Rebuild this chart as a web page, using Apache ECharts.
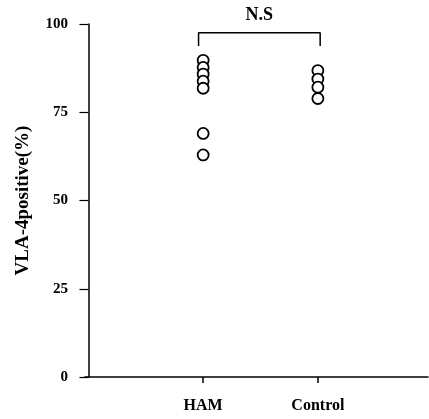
<!DOCTYPE html>
<html>
<head>
<meta charset="utf-8">
<script src="https://cdn.jsdelivr.net/npm/echarts@6/dist/echarts.min.js"></script>
<style>
  html, body { margin: 0; padding: 0; background: #fff; }
  #chart { width: 429px; height: 419px; }
</style>
</head>
<body>
<div id="chart"></div>
<script>
  // groups sit at x = 1 and x = 2 on a value axis
  var categories = ['HAM', 'Control'];
  var hamValues = [89.7, 87.7, 85.8, 83.8, 81.8, 69.0, 62.9];
  var controlValues = [86.8, 84.4, 82.1, 78.9];
  var yTicks = [0, 25, 50, 75, 100];
  // significance bracket: x positions of the legs, leg bottom, top
  var bracketX = [0.96, 2.02];
  var bracketY = [93.8, 97.5];
  var bracketText = 'N.S';

  var serif = '"Liberation Serif","DejaVu Serif",serif';

  function toPoints(x, vals) {
    return vals.map(function (v) { return [x, v]; });
  }

  var dotStyle = { color: '#fff', borderColor: '#000', borderWidth: 1.8, opacity: 1 };

  var chart = echarts.init(document.getElementById('chart'));
  chart.setOption({
    animation: false,
    grid: { left: 85, right: 1, top: 24, bottom: 42, outerBoundsMode: 'none', containLabel: false },
    xAxis: {
      type: 'value',
      min: -0.03,
      max: 2.96,
      splitLine: { show: false },
      axisLine: { lineStyle: { color: '#000', width: 1.5 } },
      axisTick: {
        customValues: [1, 2],
        length: 6,
        lineStyle: { color: '#000', width: 1.5 }
      },
      axisLabel: {
        customValues: [1, 2],
        formatter: function (v) { return categories[Math.round(v) - 1] || ''; },
        color: '#000',
        fontFamily: serif,
        fontWeight: 'bold',
        fontSize: 16,
        margin: 21
      }
    },
    yAxis: {
      type: 'value',
      min: yTicks[0],
      max: yTicks[yTicks.length - 1],
      interval: 25,
      name: 'VLA-4positive(%)',
      nameLocation: 'middle',
      nameGap: 52,
      nameTextStyle: {
        color: '#000',
        fontFamily: serif,
        fontWeight: 'bold',
        fontSize: 19
      },
      splitLine: { show: false },
      axisLine: { show: true, lineStyle: { color: '#000', width: 1.5 } },
      axisTick: { show: true, length: 9, lineStyle: { color: '#000', width: 1.2 } },
      axisLabel: {
        color: '#000',
        fontFamily: serif,
        fontWeight: 'bold',
        fontSize: 15,
        margin: 17
      }
    },
    series: [
      {
        type: 'scatter',
        symbol: 'circle',
        symbolSize: 11,
        itemStyle: dotStyle,
        z: 3,
        data: toPoints(1, hamValues)
      },
      {
        type: 'scatter',
        symbol: 'circle',
        symbolSize: 11,
        itemStyle: dotStyle,
        z: 3,
        data: toPoints(2, controlValues)
      },
      {
        type: 'line',
        symbol: 'none',
        lineStyle: { color: '#000', width: 1.5 },
        data: [
          [bracketX[0], bracketY[0]],
          [bracketX[0], bracketY[1]],
          [bracketX[1], bracketY[1]],
          [bracketX[1], bracketY[0]]
        ],
        markPoint: {
          symbol: 'circle',
          symbolSize: 0,
          label: {
            show: true,
            formatter: bracketText,
            position: 'top',
            distance: 8,
            color: '#000',
            fontFamily: serif,
            fontWeight: 'bold',
            fontSize: 18
          },
          data: [{ coord: [(bracketX[0] + bracketX[1]) / 2, bracketY[1]] }]
        }
      }
    ]
  });
</script>
</body>
</html>
